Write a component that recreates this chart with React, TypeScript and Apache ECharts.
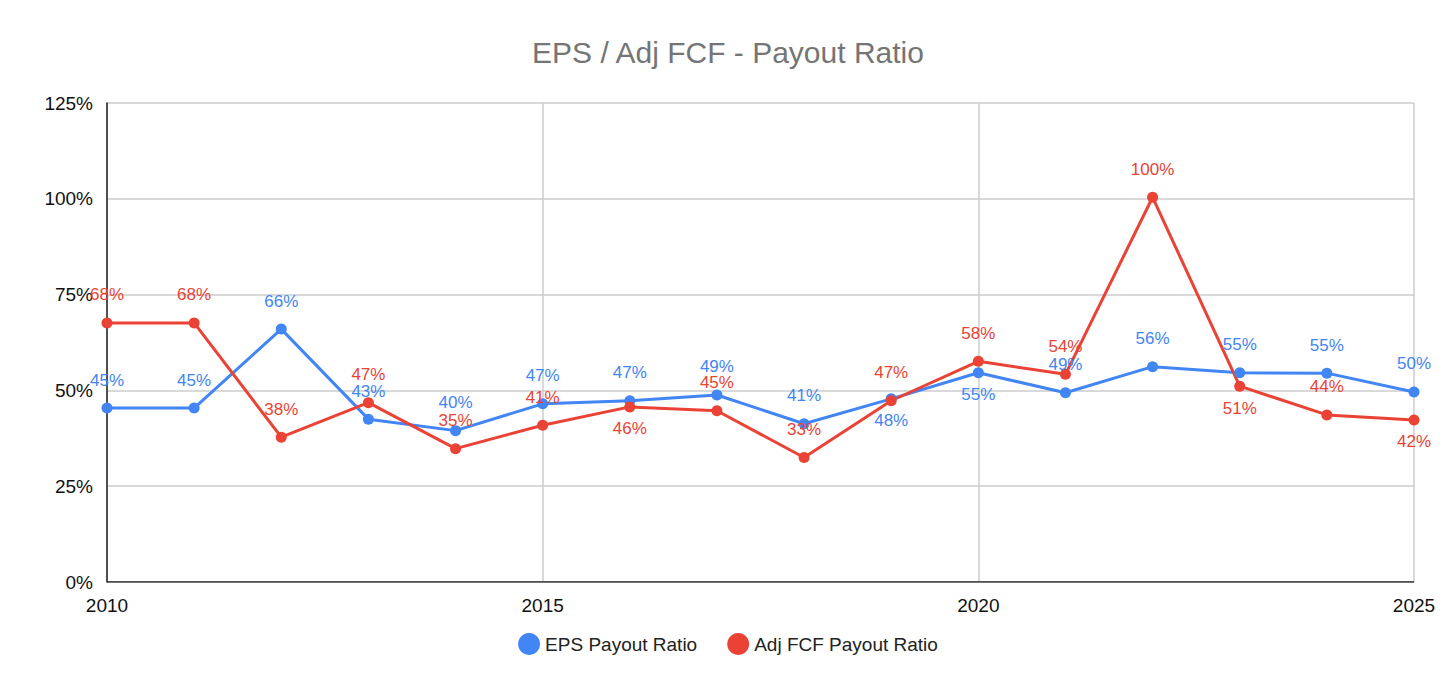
import { useEffect, useRef } from 'react';
import * as echarts from 'echarts';

const years = [2010, 2011, 2012, 2013, 2014, 2015, 2016, 2017, 2018, 2019, 2020, 2021, 2022, 2023, 2024, 2025];
const epsPayout = [45.4, 45.4, 66, 42.5, 39.5, 46.5, 47.3, 48.8, 41.3, 47.8, 54.6, 49.4, 56.2, 54.6, 54.5, 49.6];
const fcfPayout = [67.6, 67.6, 37.8, 46.8, 34.8, 40.9, 45.7, 44.7, 32.5, 47.3, 57.6, 54.2, 100.4, 51.1, 43.6, 42.3];
// labels that would collide are pushed below their point
const epsBelow = [2019, 2020];
const fcfBelow = [2016, 2023, 2025];
const yTicks = [0, 25, 50, 75, 100, 125];

const BLUE = '#4285F4';
const RED = '#EA4335';
const FONT = 'Liberation Sans, Arial, sans-serif';

export default function App() {
  const ref = useRef<HTMLDivElement>(null);

  useEffect(() => {
    document.body.style.margin = '0';
    if (!ref.current) return;
    const chart = echarts.init(ref.current, undefined, { renderer: 'svg' });

    const mk = (name: string, vals: number[], color: string, below: number[]) => ({
      name,
      type: 'line',
      data: years.map((y, i) => ({
        value: [y, vals[i]],
        label: below.includes(y) ? { position: 'bottom', distance: 8 } : undefined,
      })),
      symbol: 'circle',
      symbolSize: 11,
      lineStyle: { width: 3, color },
      itemStyle: { color },
      label: {
        show: true,
        position: 'top',
        distance: 14,
        fontSize: 17,
        color,
        fontFamily: FONT,
        formatter: (p: any) => `${Math.round(p.value[1])}%`,
      },
    });

    chart.setOption({
      animation: false,
      backgroundColor: '#fff',
      textStyle: { fontFamily: FONT },
      title: {
        text: 'EPS / Adj FCF - Payout Ratio',
        left: 'center',
        top: 32,
        textStyle: { fontSize: 30, fontWeight: 'normal', color: '#757575', fontFamily: FONT },
      },
      legend: {
        bottom: 34,
        icon: 'circle',
        itemWidth: 22,
        itemHeight: 22,
        itemGap: 30,
        textStyle: { fontSize: 19, color: '#222', fontFamily: FONT },
      },
      grid: { left: 107, right: 42, top: 103, bottom: 112 },
      xAxis: {
        type: 'value',
        min: 2010,
        max: 2025,
        interval: 5,
        axisLine: { show: false },
        axisTick: { show: false },
        axisLabel: { fontSize: 19, color: '#111', margin: 14, formatter: (v: number) => String(v) },
        splitLine: { show: true, lineStyle: { color: '#ccc', width: 1.5 } },
      },
      yAxis: {
        type: 'value',
        min: yTicks[0],
        max: yTicks[yTicks.length - 1],
        interval: 25,
        axisLine: { show: true, onZero: false, lineStyle: { color: '#222', width: 1.5 } },
        axisTick: { show: false },
        axisLabel: { fontSize: 19, color: '#111', margin: 14, formatter: '{value}%' },
        splitLine: { lineStyle: { color: '#ccc', width: 1.5 } },
      },
      series: [
        mk('EPS Payout Ratio', epsPayout, BLUE, epsBelow),
        mk('Adj FCF Payout Ratio', fcfPayout, RED, fcfBelow),
        {
          type: 'line',
          data: [[2010, 0], [2025, 0]],
          symbol: 'none',
          silent: true,
          lineStyle: { color: '#222', width: 1.5 },
          z: 1,
        },
      ],
    });

    return () => chart.dispose();
  }, []);

  return <div ref={ref} style={{ width: 1456, height: 694 }} />;
}
